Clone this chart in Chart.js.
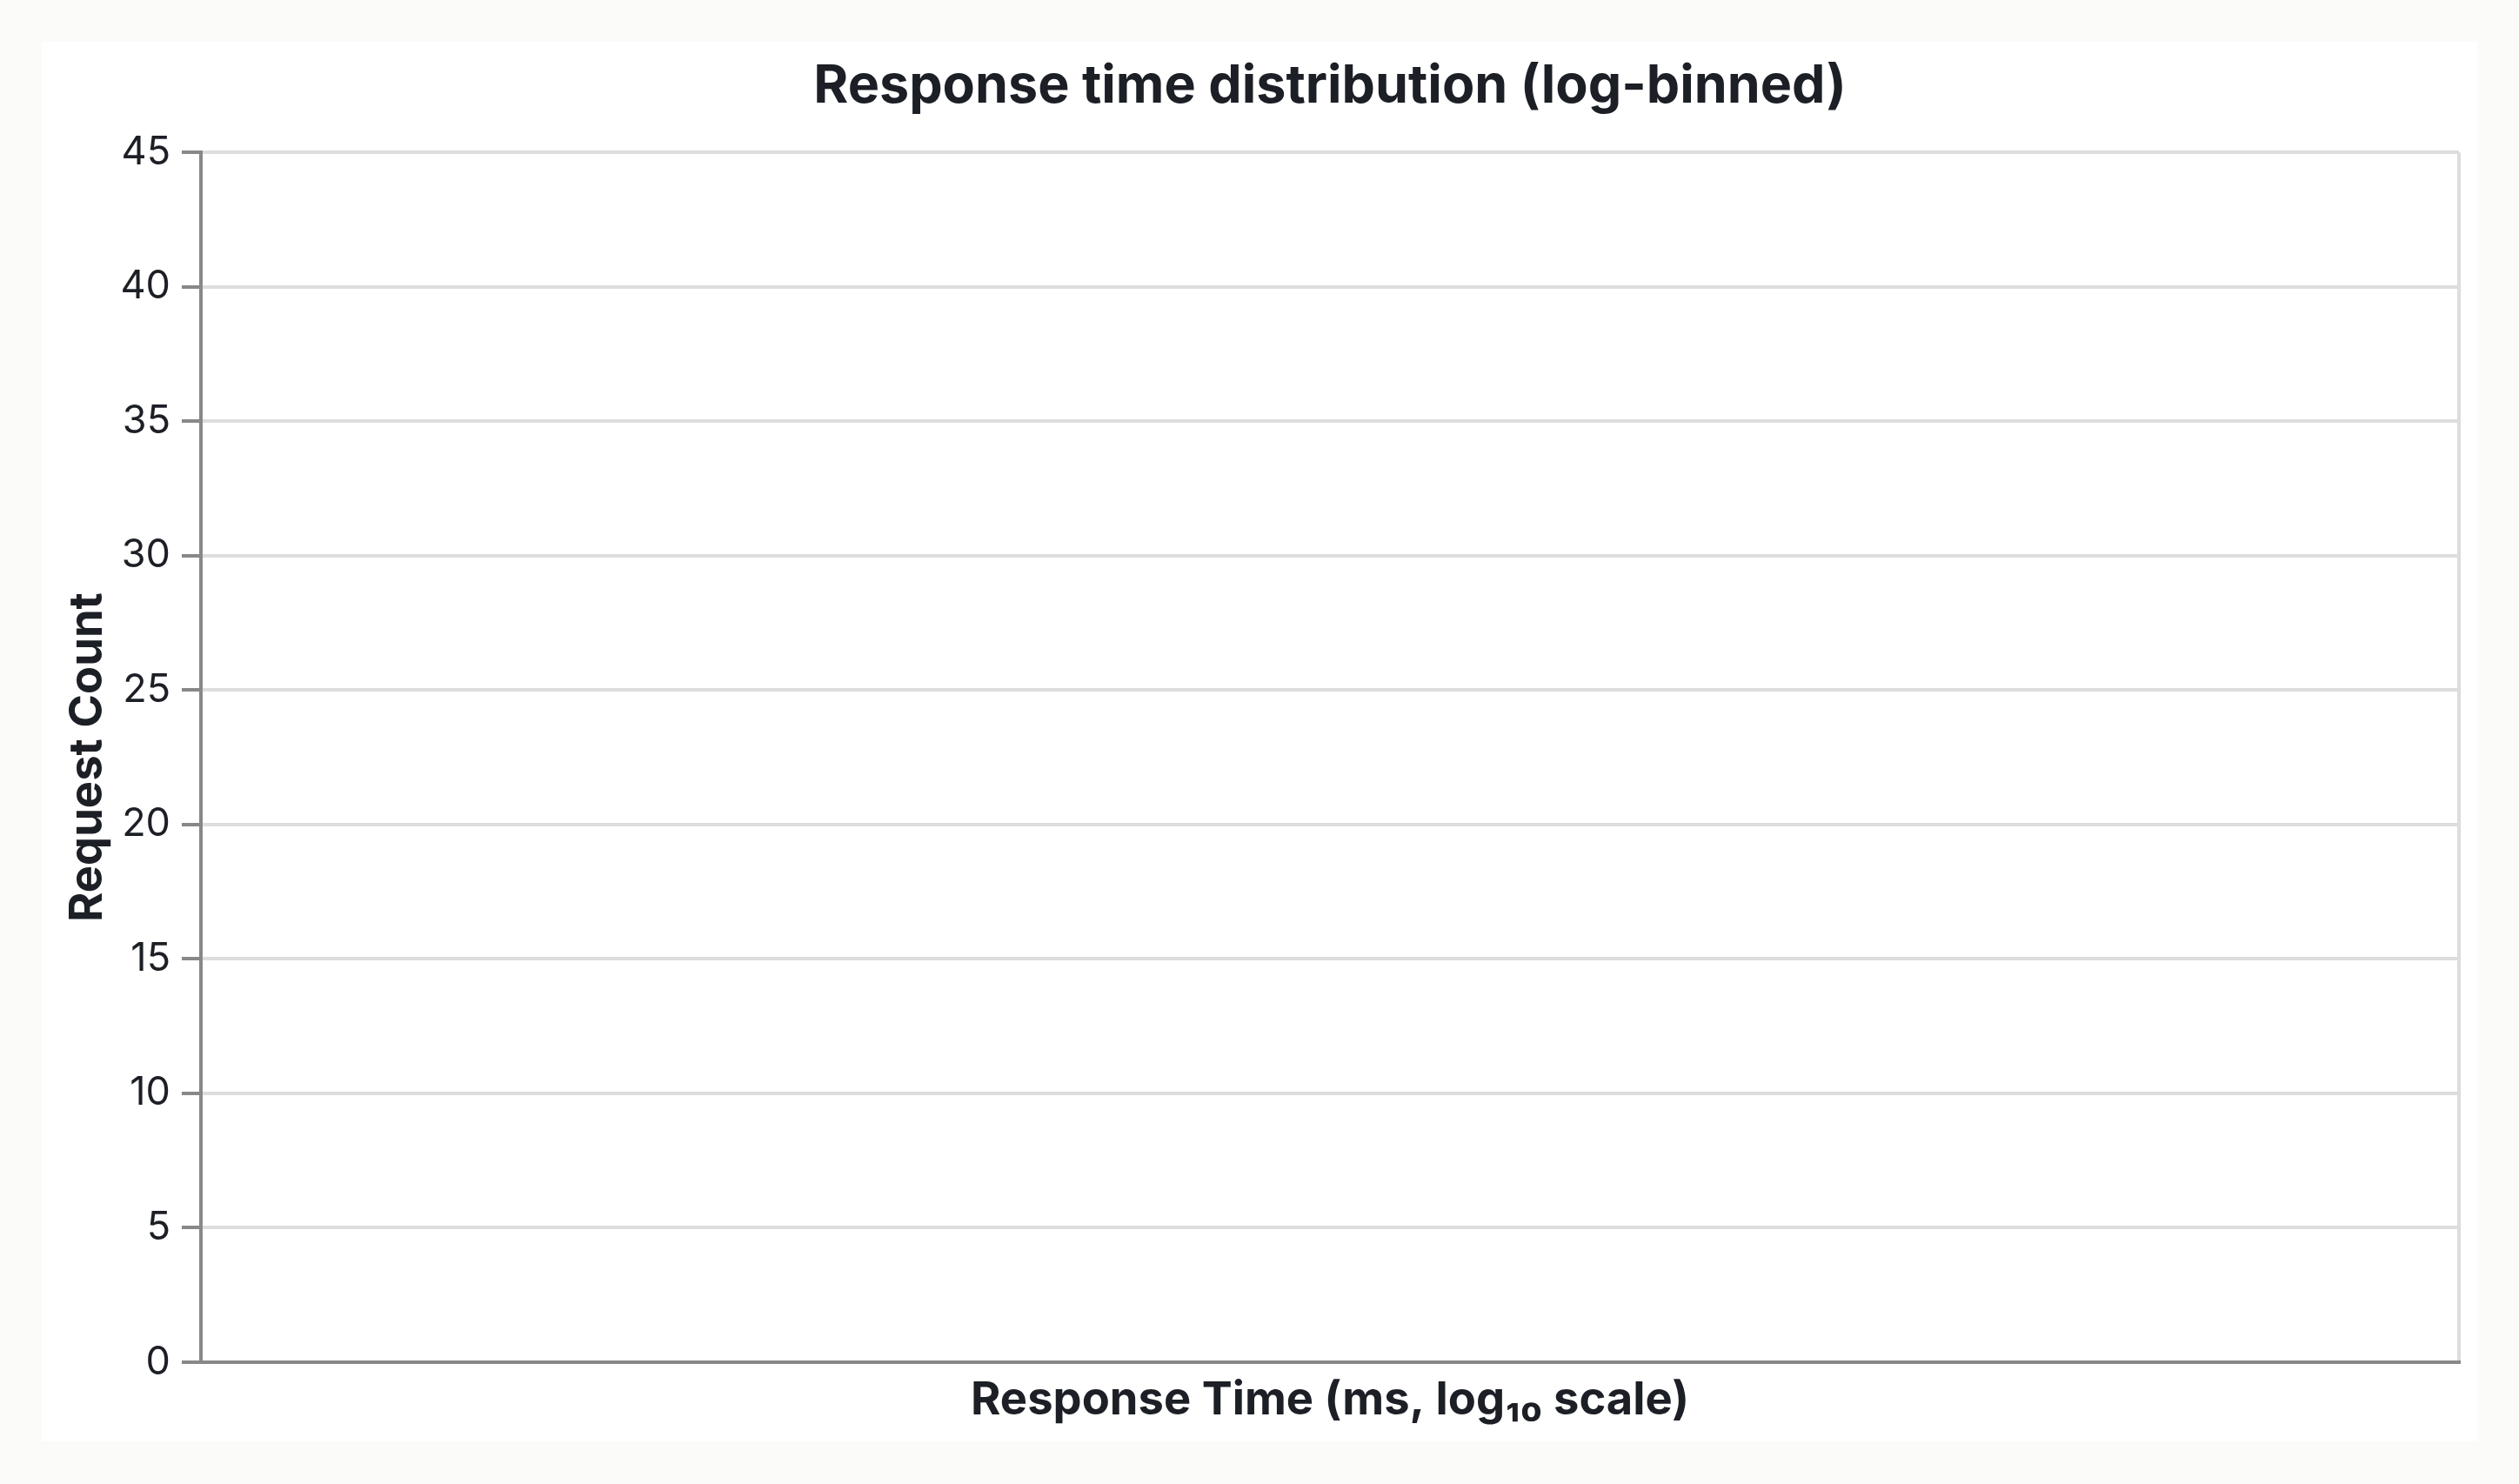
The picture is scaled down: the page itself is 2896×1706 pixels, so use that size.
<!DOCTYPE html>
<html>
<head>
<meta charset="utf-8">
<script src="https://cdn.jsdelivr.net/npm/chart.js@4/dist/chart.umd.min.js"></script>
<style>
  html, body { margin: 0; padding: 0; background: #fbfbf9; }
  body { width: 2896px; height: 1706px; position: relative; overflow: hidden; }
  .card { position: absolute; left: 48px; top: 48px; width: 2800px; height: 1609px; background: #ffffff; }
  .card canvas { display: block; }
</style>
</head>
<body>
<div class="card"><canvas id="chart"></canvas></div>
<script>
// Histogram data (the reference shows no bins at all)
const binStartsMs = [];
const requestCounts = [];
const yTickValues = [0, 5, 10, 15, 20, 25, 30, 35, 40, 45];

const textColor = '#1c1f25';
const axisColor = '#888888';
const gridColor = '#dddddd';

const ctx = document.getElementById('chart').getContext('2d');
const chart = new Chart(ctx, {
  type: 'bar',
  data: {
    labels: binStartsMs,
    datasets: [{
      label: 'Requests',
      data: requestCounts.map((c, i) => ({ x: binStartsMs[i], y: c })),
      backgroundColor: '#4c78a8'
    }]
  },
  options: {
    responsive: true,
    maintainAspectRatio: false,
    animation: false,
    layout: { padding: { left: 0, right: 21, top: 0, bottom: 0 } },
    plugins: {
      legend: { display: false },
      tooltip: { enabled: false },
      title: {
        display: true,
        fullSize: false, // center over the plot area, not the whole canvas
        text: 'Response time distribution (log-binned)',
        color: textColor,
        font: { family: 'Inter', size: 61, weight: 'bold' },
        padding: { top: 15, bottom: 39 }
      }
    },
    scales: {
      x: {
        type: 'logarithmic',
        offset: false,
        ticks: { display: false },
        grid: {
          offset: false,
          drawTicks: false,
          lineWidth: 4,
          color: (c) => (c.tick && c.scale && c.index === c.scale.ticks.length - 1) ? gridColor : 'rgba(0,0,0,0)'
        },
        border: { color: axisColor, width: 4 },
        title: {
          display: true,
          text: 'Response Time (ms, log₁₀ scale)',
          color: textColor,
          font: { family: 'Inter', size: 52.5, weight: 'bold' },
          padding: { top: 13, bottom: 15 }
        },
        afterFit: (scale) => { scale.height = 91; }
      },
      y: {
        min: yTickValues[0],
        max: yTickValues[yTickValues.length - 1],
        afterBuildTicks: (scale) => { scale.ticks = yTickValues.map(v => ({ value: v })); },
        ticks: {
          color: textColor,
          font: { family: 'Inter', size: 45 },
          padding: 13
        },
        grid: {
          color: gridColor,
          lineWidth: 4,
          tickColor: axisColor,
          tickWidth: 4,
          tickLength: 22
        },
        border: { color: axisColor, width: 4 },
        title: {
          display: true,
          text: 'Request Count',
          color: textColor,
          font: { family: 'Inter', size: 52.5, weight: 'bold' },
          padding: { top: 22, bottom: 8 }
        },
        afterFit: (scale) => { scale.width = 183; }
      }
    }
  }
});
</script>
</body>
</html>
